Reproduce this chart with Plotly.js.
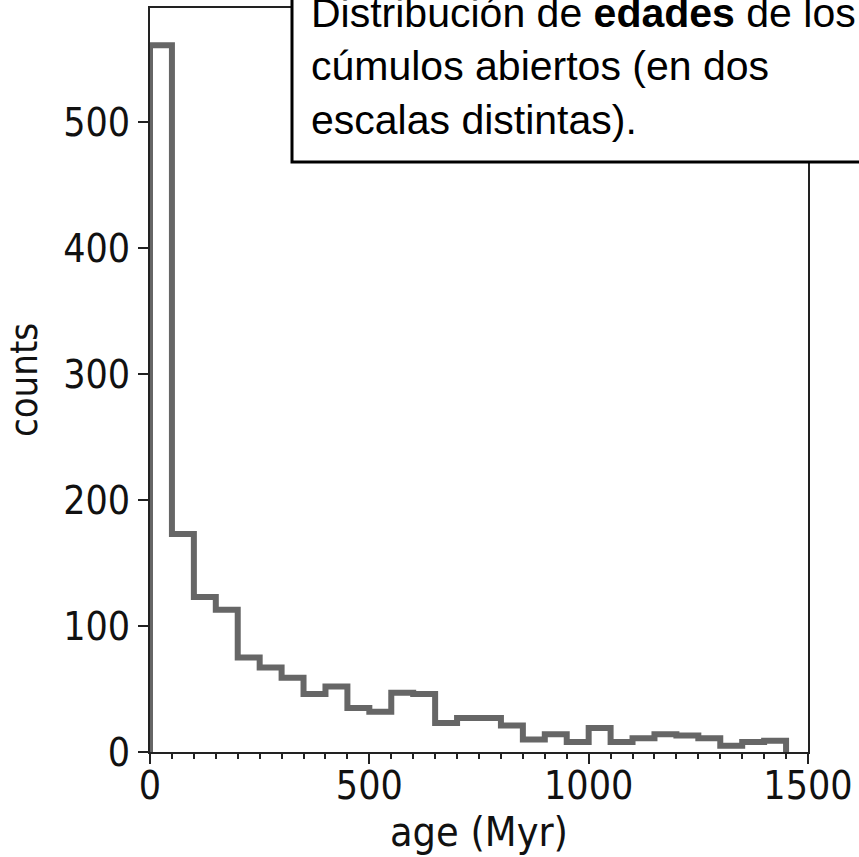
<!DOCTYPE html>
<html>
<head>
<meta charset="utf-8">
<script src="https://cdn.plot.ly/plotly-3.0.1.min.js"></script>
<style>html,body{margin:0;padding:0;background:#fff;}#chart{width:859px;height:857px;}</style>
</head>
<body>
<div id="chart"></div>
<script>
// Bin left edges (Myr) and counts
const binStarts = [0, 50, 100, 150, 200, 250, 300, 350, 400, 450, 500, 550, 600, 650, 700,
                   750, 800, 850, 900, 950, 1000, 1050, 1100, 1150, 1200, 1250, 1300, 1350, 1400];
const binWidth = 50;
const counts = [561, 173, 123, 113, 75, 67, 59, 46, 52, 35, 32, 47, 46, 23, 27,
                27, 21, 10, 14, 8, 19, 8, 11, 14, 13, 11, 5, 8, 9];
const xTickVals = [0, 500, 1000, 1500];
const yTickVals = [0, 100, 200, 300, 400, 500];
const xTitle = 'age (Myr)';
const yTitle = 'counts';
const noteText = 'Distribución de <b>edades</b> de los<br>cúmulos abiertos (en dos<br>escalas distintas).';

// Step outline (matplotlib histtype="step"), built from the bins
const lastEdge = binStarts[binStarts.length - 1] + binWidth;
const sx = [binStarts[0]].concat(binStarts, [lastEdge, lastEdge]);
const sy = [0].concat(counts, [counts[counts.length - 1], 0]);

const fam = 'DejaVu Sans Condensed, DejaVu Sans, sans-serif';
const tickFont = {family: fam, size: 39, color: '#111'};

const trace = {
  type: 'scatter', mode: 'lines', x: sx, y: sy,
  line: {shape: 'hv', color: '#666666', width: 6},
  hoverinfo: 'skip', showlegend: false
};

const W = 859, H = 857, L = 150, R = 808, T = 8, B = 752;
const px = v => (v - L) / (R - L);
const py = v => (B - v) / (B - T);

const layout = {
  width: W, height: H,
  margin: {l: L, r: W - R, t: T, b: H - B, pad: 0},
  paper_bgcolor: '#fff', plot_bgcolor: '#fff',
  showlegend: false,
  xaxis: {
    range: [0, 1500], tickvals: xTickVals, ticktext: xTickVals.map(String),
    ticks: 'outside', ticklen: 10, tickwidth: 2, tickcolor: '#222',
    ticklabelstandoff: -12,
    minor: {dtick: 50, tick0: 0, ticks: 'outside', ticklen: 5, tickwidth: 2, tickcolor: '#222', showgrid: false},
    showline: true, linecolor: '#222', linewidth: 2, mirror: true,
    showgrid: false, zeroline: false, tickfont: tickFont,
    title: {text: xTitle, font: {family: fam, size: 41, color: '#111'}, standoff: 0}
  },
  yaxis: {
    range: [0, 590.5], tickvals: yTickVals, ticktext: yTickVals.map(String),
    ticks: 'outside', ticklen: 10, tickwidth: 2, tickcolor: '#222',
    ticklabelstandoff: 0,
    showline: true, linecolor: '#222', linewidth: 2, mirror: true,
    showgrid: false, zeroline: false, tickfont: tickFont,
    title: {text: yTitle, font: {family: fam, size: 38, color: '#111'}, standoff: 14}
  },
  shapes: [{
    type: 'rect', xref: 'paper', yref: 'paper', layer: 'above',
    x0: px(292), x1: px(880), y0: py(162), y1: py(-20),
    line: {color: '#000', width: 3}, fillcolor: '#fff'
  }],
  annotations: [{
    xref: 'paper', yref: 'paper', x: px(309), y: py(-12),
    xanchor: 'left', yanchor: 'top', align: 'left', showarrow: false,
    text: noteText,
    font: {family: 'Liberation Sans, Arial, sans-serif', size: 41, color: '#000'}
  }]
};

Plotly.newPlot('chart', [trace], layout, {displayModeBar: false, staticPlot: true});
</script>
</body>
</html>
